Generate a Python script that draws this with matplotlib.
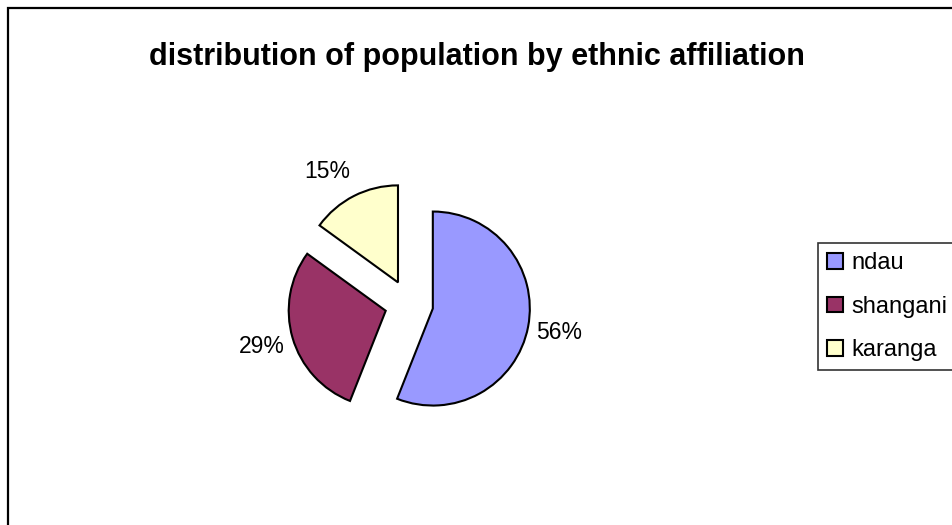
import matplotlib
matplotlib.use("Agg")
from matplotlib import pyplot as plt
from matplotlib.patches import Rectangle

plt.rcParams['font.family'] = ['Liberation Sans', 'DejaVu Sans']

# data
groups = ['ndau', 'shangani', 'karanga']
shares = [56, 29, 15]
colours = ['#9999FF', '#993366', '#FFFFCC']

W, H = 953, 525
fig = plt.figure(figsize=(W / 100, H / 100), dpi=100)

# outer chart frame (only left and top edges fall inside the picture)
fig.add_artist(Rectangle((8 / W, -0.2), 1.3, 1.2 - 8 / H, transform=fig.transFigure,
                         fill=False, edgecolor='black', linewidth=1.6))

fig.text(0.5, 1 - 65 / H, 'distribution of population by ethnic affiliation',
         ha='center', va='baseline', fontsize=22, fontweight='bold')

# pie axes: centre at (409, 304) px, radius 97 px
cx, cy, r, half = 409, 304, 97, 200
ax = fig.add_axes([(cx - half) / W, 1 - (cy + half) / H, 2 * half / W, 2 * half / H])
wedges, texts, autotexts = ax.pie(
    shares, colors=colours, startangle=90, counterclock=False,
    explode=[0.25] * len(shares), autopct='%1.0f%%', pctdistance=1.33,
    wedgeprops=dict(edgecolor='black', linewidth=1.5),
    textprops=dict(fontsize=16.5, color='black'))
ax.set_xlim(-half / r, half / r)
ax.set_ylim(-half / r, half / r)
ax.axis('off')

# the small slice's label sits a little further left in the original
x15, y15 = autotexts[2].get_position()
autotexts[2].set_position((x15 - 0.13, y15 - 0.04))

leg = fig.legend(wedges, groups, loc='upper left',
                 bbox_to_anchor=(818 / W, 1 - 243 / H), fontsize=17,
                 frameon=True, fancybox=False, edgecolor='black',
                 handlelength=0.65, handleheight=0.65, handletextpad=0.35,
                 borderpad=0.4, labelspacing=0.9, borderaxespad=0)
leg.get_frame().set_linewidth(1.2)
for h in leg.legend_handles:
    h.set_linewidth(1.5)

fig.savefig('out.png', dpi=100)
